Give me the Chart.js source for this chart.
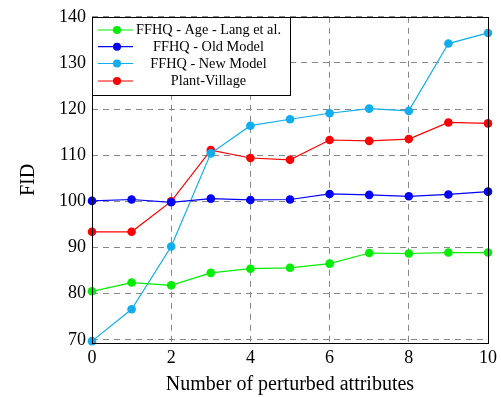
<!DOCTYPE html>
<html>
<head>
<meta charset="utf-8">
<script src="https://cdn.jsdelivr.net/npm/chart.js@4/dist/chart.umd.min.js"></script>
<style>
html,body{margin:0;padding:0;background:#fff;}
#wrap{width:501px;height:397px;}
</style>
</head>
<body>
<div id="wrap"><canvas id="c" width="501" height="397"></canvas></div>
<script>
const xValues = [0,1,2,3,4,5,6,7,8,9,10];
const xTicks = [0,2,4,6,8,10];
const yTicks = [70,80,90,100,110,120,130,140];
const seriesNames = ["FFHQ - Age - Lang et al.","FFHQ - Old Model","FFHQ - New Model","Plant-Village"];
const ageLang = [80.5,82.4,81.8,84.5,85.4,85.6,86.5,88.8,88.7,88.9,88.9];
const oldModel = [100.1,100.4,99.8,100.6,100.3,100.4,101.6,101.4,101.1,101.5,102.1];
const newModel = [69.7,76.6,90.2,110.4,116.4,117.8,119.1,120.1,119.6,134.2,136.5];
const plantVillage = [93.4,93.4,100.0,111.1,109.4,109.0,113.3,113.1,113.5,117.1,116.9];
const colors = ["#00ee00","#0000ff","#10aeee","#ff0000"];
const allSeries = [ageLang, oldModel, newModel, plantVillage];

const SERIF = "'Liberation Serif','DejaVu Serif',serif";

const datasets = allSeries.map((vals,i)=>({
  label: seriesNames[i],
  data: xValues.map((x,j)=>({x:x,y:vals[j]})),
  borderColor: colors[i],
  backgroundColor: colors[i],
  borderWidth: 1.2,
  pointRadius: 4.3,
  pointBorderWidth: 0,
  pointHoverRadius: 4.3,
  tension: 0,
  clip: false
}));

const framePlugin = {
  id: 'frame',
  afterDatasetsDraw(chart){
    const ctx = chart.ctx, a = chart.chartArea;
    ctx.save();
    ctx.strokeStyle = '#000';
    ctx.lineWidth = 1;
    ctx.strokeRect(Math.round(a.left)+0.5, Math.round(a.top)+0.5, Math.round(a.right-a.left), Math.round(a.bottom-a.top));
    ctx.restore();
  },
  afterDraw(chart){
    const ctx = chart.ctx;
    const bx = 92.5, by = 17.5, bw = 198, bh = 78;
    ctx.save();
    ctx.fillStyle = '#fff';
    ctx.fillRect(bx,by,bw,bh);
    ctx.strokeStyle = '#000';
    ctx.lineWidth = 1;
    ctx.strokeRect(bx,by,bw,bh);
    const rows = [30,46.7,63.5,81];
    chart.data.datasets.forEach((ds,i)=>{
      const y = rows[i];
      ctx.strokeStyle = ds.borderColor;
      ctx.lineWidth = 1.2;
      ctx.beginPath(); ctx.moveTo(98,y); ctx.lineTo(133,y); ctx.stroke();
      ctx.fillStyle = ds.backgroundColor;
      ctx.beginPath(); ctx.arc(117,y,4,0,Math.PI*2); ctx.fill();
      ctx.fillStyle = '#000';
      ctx.font = "14.3px " + SERIF;
      ctx.textAlign = 'center';
      ctx.textBaseline = 'middle';
      ctx.fillText(ds.label, 208.5, y+0.5);
    });
    ctx.restore();
  }
};

new Chart(document.getElementById('c'), {
  type: 'line',
  data: { datasets: datasets },
  options: {
    responsive: false,
    animation: false,
    devicePixelRatio: 1,
    layout: { padding: { left: 0, right: 12, top: 13, bottom: 0 } },
    plugins: { legend: { display: false }, tooltip: { enabled: false } },
    scales: {
      x: {
        type: 'linear',
        min: 0, max: 10,
        afterFit(s){ s.height = 54; },
        afterBuildTicks(s){ s.ticks = xTicks.map(v=>({value:v})); },
        grid: { color: '#888', lineWidth: 1, drawTicks: false },
        border: { display: false, dash: [6,5] },
        ticks: { color: '#000', font: { family: SERIF, size: 18 }, padding: 4, maxRotation: 0 },
        title: { display: true, text: 'Number of perturbed attributes', color: '#000', font: { family: SERIF, size: 20 }, padding: { top: 6, bottom: 0 } }
      },
      y: {
        type: 'linear',
        min: 69.3, max: 140,
        afterFit(s){ s.width = 92; },
        afterBuildTicks(s){ s.ticks = yTicks.map(v=>({value:v})); },
        grid: { color: '#888', lineWidth: 1, drawTicks: false },
        border: { display: false, dash: [6,5] },
        ticks: { color: '#000', font: { family: SERIF, size: 18 }, padding: 6 },
        title: { display: true, text: 'FID', color: '#000', font: { family: SERIF, size: 20 }, padding: { top: 17, bottom: 0 } }
      }
    }
  },
  plugins: [framePlugin]
});
</script>
</body>
</html>
